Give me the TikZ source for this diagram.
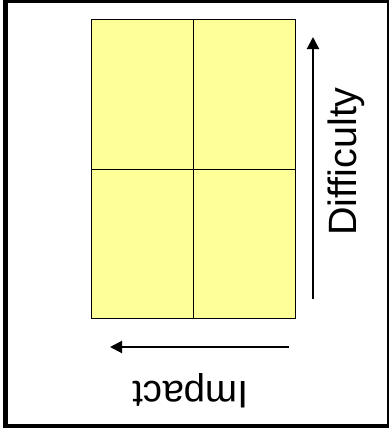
\documentclass[tikz,border=0pt]{standalone}
\usepackage{fontspec}
\setmainfont{Liberation Sans}
\usetikzlibrary{arrows.meta}
\begin{document}
\begin{tikzpicture}[x=1pt,y=-1pt,
  cell/.style={draw=black,line width=0.9pt,fill=cellyellow,minimum width=102pt,minimum height=149.5pt,inner sep=0pt,anchor=north west},
  axisarrow/.style={line width=2pt,-{Triangle[width=12pt,length=12pt]}},
  axislabel/.style={inner sep=0pt}]
\definecolor{cellyellow}{RGB}{255,255,153}
\useasboundingbox (0,0) rectangle (389,432);
\begin{scope}
\clip (0,0) rectangle (389,432);
\draw[line width=4.5pt] (5.5,0.5) rectangle (389.5,426);
\end{scope}
\node[cell] (tl) at (91,19) {};
\node[cell] (tr) at (193,19) {};
\node[cell] (bl) at (91,168.5) {};
\node[cell] (br) at (193,168.5) {};
\coordinate (d0) at (313,299);
\coordinate (d1) at (313,37);
\draw[axisarrow] (d0) -- (d1);
\coordinate (i0) at (289,347);
\coordinate (i1) at (110,347);
\draw[axisarrow] (i0) -- (i1);
\node[axislabel,font=\fontsize{39.5}{46}\selectfont,rotate=90,anchor=base] (diff) at (356,161.5) {Difficulty};
\node[axislabel,font=\fontsize{38.5}{46}\selectfont,rotate=180,anchor=base] (imp) at (190.5,381) {Impact};
\end{tikzpicture}
\end{document}
